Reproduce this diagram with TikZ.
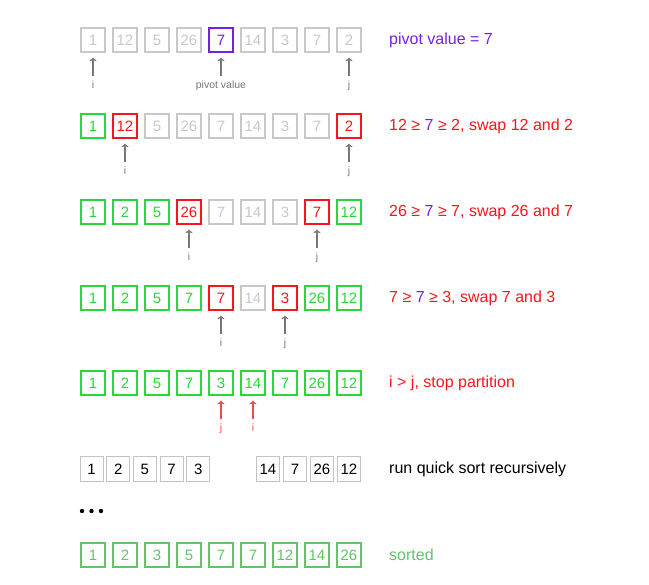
\documentclass[tikz,border=0pt]{standalone}
\usepackage{fontspec}
\setmainfont{Liberation Sans}
\usepackage{tikz}
\usepackage{xcolor}
\usetikzlibrary{arrows.meta}

\definecolor{fadegray}{RGB}{200,200,200}
\definecolor{boxgray}{RGB}{195,195,195}
\definecolor{arrowgray}{RGB}{120,120,120}
\definecolor{okgreen}{RGB}{40,215,60}
\definecolor{hitred}{RGB}{250,20,30}
\definecolor{softred}{RGB}{250,70,80}
\definecolor{pivpurple}{RGB}{120,30,225}
\definecolor{donegreen}{RGB}{100,195,105}

\tikzset{
  cell/.style={draw, minimum size=24pt, inner sep=0pt, line width=1.3pt, font=\fontsize{15}{17}\selectfont},
  faded/.style={cell, draw=fadegray, text=fadegray},
  ok/.style={cell, draw=okgreen, text=okgreen},
  hit/.style={cell, draw=hitred, text=hitred},
  piv/.style={cell, draw=pivpurple, text=pivpurple},
  done/.style={cell, draw=donegreen, text=donegreen},
  plain/.style={cell, draw=boxgray, text=black, line width=1pt, minimum width=23pt, minimum height=25pt},
  tag/.style={font=\fontsize{10.5}{12}\selectfont, text=arrowgray, inner sep=1pt, text height=7pt, text depth=2pt},
  ptr/.style={-{To[length=3.5pt,width=7pt]}, arrowgray, line width=1.2pt, shorten >=5pt, shorten <=4pt},
  note/.style={anchor=west, font=\fontsize{16}{18}\selectfont, inner sep=0pt},
}

\begin{document}
\begin{tikzpicture}[x=1pt,y=-1pt]
    \useasboundingbox (0,0) rectangle (649,585);

    % step 1: choose the pivot
    \foreach \v/\s [count=\k] in {1/faded,12/faded,5/faded,26/faded,7/piv,14/faded,3/faded,7/faded,2/faded}
        \node[\s] (a\k) at ({93+32*(\k-1)},40) {\v};
    \node[tag] (ai) at (93,86) {i};
    \node[tag] (ap) at (221,86) {pivot value};
    \node[tag] (aj) at (349,86) {j};
    \draw[ptr] (ai) -- (a1);
    \draw[ptr] (ap) -- (a5);
    \draw[ptr] (aj) -- (a9);
    \node[note, text=pivpurple] (ta) at (389,40) {pivot value = 7};

    % step 2
    \foreach \v/\s [count=\k] in {1/ok,12/hit,5/faded,26/faded,7/faded,14/faded,3/faded,7/faded,2/hit}
        \node[\s] (b\k) at ({93+32*(\k-1)},126) {\v};
    \node[tag] (bi) at (125,172) {i};
    \node[tag] (bj) at (349,172) {j};
    \draw[ptr] (bi) -- (b2);
    \draw[ptr] (bj) -- (b9);
    \node[note, text=hitred] (tb) at (389,126) {12 ≥ \textcolor{pivpurple}{7} ≥ 2, swap 12 and 2};

    % step 3
    \foreach \v/\s [count=\k] in {1/ok,2/ok,5/ok,26/hit,7/faded,14/faded,3/faded,7/hit,12/ok}
        \node[\s] (c\k) at ({93+32*(\k-1)},212) {\v};
    \node[tag] (ci) at (189,258) {i};
    \node[tag] (cj) at (317,258) {j};
    \draw[ptr] (ci) -- (c4);
    \draw[ptr] (cj) -- (c8);
    \node[note, text=hitred] (tc) at (389,212) {26 ≥ \textcolor{pivpurple}{7} ≥ 7, swap 26 and 7};

    % step 4
    \foreach \v/\s [count=\k] in {1/ok,2/ok,5/ok,7/ok,7/hit,14/faded,3/hit,26/ok,12/ok}
        \node[\s] (d\k) at ({93+32*(\k-1)},298) {\v};
    \node[tag] (di) at (221,344) {i};
    \node[tag] (dj) at (285,344) {j};
    \draw[ptr] (di) -- (d5);
    \draw[ptr] (dj) -- (d7);
    \node[note, text=hitred] (td) at (389,298) {7 ≥ \textcolor{pivpurple}{7} ≥ 3, swap 7 and 3};

    % step 5: pointers crossed
    \foreach \v [count=\k] in {1,2,5,7,3,14,7,26,12}
        \node[ok, line width=1.6pt] (e\k) at ({93+32*(\k-1)},383) {\v};
    \node[tag, text=softred] (ej) at (221,429) {j};
    \node[tag, text=softred] (ei) at (253,429) {i};
    \draw[ptr, softred] (ej) -- (e5);
    \draw[ptr, softred] (ei) -- (e6);
    \node[note, text=hitred] (te) at (389,383) {i > j, stop partition};

    % two halves
    \foreach \v [count=\k] in {1,2,5,7,3}
        \node[plain] (f\k) at ({91.5+26.7*(\k-1)},469.5) {\v};
    \foreach \v [count=\k] in {14,7,26,12}
        \node[plain] (g\k) at ({268+27*(\k-1)},469.5) {\v};
    \node[note] (tf) at (389,469) {run quick sort recursively};

    \fill (82,511) circle (2.2pt);
    \fill (91.5,511) circle (2.2pt);
    \fill (101,511) circle (2.2pt);

    % result
    \foreach \v [count=\k] in {1,2,3,5,7,7,12,14,26}
        \node[done] (h\k) at ({93+32*(\k-1)},555) {\v};
    \node[note, text=donegreen] (th) at (389,555) {sorted};
\end{tikzpicture}
\end{document}
